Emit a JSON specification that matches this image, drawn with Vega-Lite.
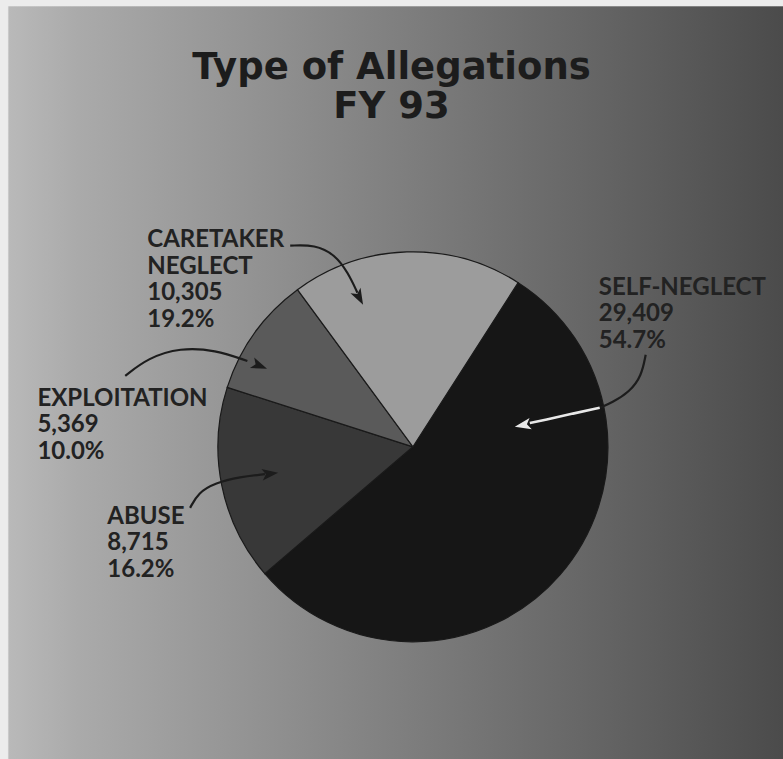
{
  "$schema": "https://vega.github.io/schema/vega-lite/v6.json",
  "width": 783,
  "height": 759,
  "autosize": {"type": "none"},
  "padding": 0,
  "background": "#808080",
  "config": {"view": {"stroke": null}},
  "title": {
    "text": ["Type of Allegations", "FY 93"],
    "font": "DejaVu Sans",
    "fontSize": 37,
    "fontWeight": "bold",
    "color": "#1c1c1c",
    "anchor": "middle",
    "lineHeight": 39,
    "baseline": "bottom",
    "offset": 0,
    "dy": 163
  },
  "datasets": {
    "slices": [
      {"type": "SELF-NEGLECT", "count": 29409, "percent": 54.7, "ord": 1},
      {"type": "ABUSE", "count": 8715, "percent": 16.2, "ord": 2},
      {"type": "EXPLOITATION", "count": 5369, "percent": 10.0, "ord": 3},
      {"type": "CARETAKER NEGLECT", "count": 10305, "percent": 19.2, "ord": 4}
    ],
    "labels": [
      {"type": "CARETAKER NEGLECT", "text": "CARETAKER\nNEGLECT\n10,305\n19.2%", "lx": -1.364, "ly": 1.023},
      {"type": "EXPLOITATION", "text": "EXPLOITATION\n5,369\n10.0%", "lx": -1.928, "ly": 0.210},
      {"type": "ABUSE", "text": "ABUSE\n8,715\n16.2%", "lx": -1.569, "ly": -0.395},
      {"type": "SELF-NEGLECT", "text": "SELF-NEGLECT\n29,409\n54.7%", "lx": 0.954, "ly": 0.779}
    ],
    "arrows": [
      {"arrow": "caretaker", "step": 1, "ax": -0.630, "ay": 1.031},
      {"arrow": "caretaker", "step": 2, "ax": -0.503, "ay": 1.036},
      {"arrow": "caretaker", "step": 3, "ax": -0.400, "ay": 0.985},
      {"arrow": "caretaker", "step": 4, "ax": -0.333, "ay": 0.892},
      {"arrow": "caretaker", "step": 5, "ax": -0.285, "ay": 0.790},
      {"arrow": "exploitation", "step": 1, "ax": -1.477, "ay": 0.364},
      {"arrow": "exploitation", "step": 2, "ax": -1.359, "ay": 0.456},
      {"arrow": "exploitation", "step": 3, "ax": -1.195, "ay": 0.508},
      {"arrow": "exploitation", "step": 4, "ax": -1.015, "ay": 0.497},
      {"arrow": "exploitation", "step": 5, "ax": -0.850, "ay": 0.440},
      {"arrow": "abuse", "step": 1, "ax": -1.144, "ay": -0.313},
      {"arrow": "abuse", "step": 2, "ax": -1.103, "ay": -0.236},
      {"arrow": "abuse", "step": 3, "ax": -1.015, "ay": -0.185},
      {"arrow": "abuse", "step": 4, "ax": -0.887, "ay": -0.154},
      {"arrow": "abuse", "step": 5, "ax": -0.760, "ay": -0.140},
      {"arrow": "self_out", "step": 1, "ax": 1.195, "ay": 0.472},
      {"arrow": "self_out", "step": 2, "ax": 1.174, "ay": 0.364},
      {"arrow": "self_out", "step": 3, "ax": 1.113, "ay": 0.282},
      {"arrow": "self_out", "step": 4, "ax": 1.021, "ay": 0.226},
      {"arrow": "self_out", "step": 5, "ax": 0.959, "ay": 0.200},
      {"arrow": "self_in", "step": 1, "ax": 0.959, "ay": 0.200},
      {"arrow": "self_in", "step": 2, "ax": 0.815, "ay": 0.169},
      {"arrow": "self_in", "step": 3, "ax": 0.677, "ay": 0.138},
      {"arrow": "self_in", "step": 4, "ax": 0.600, "ay": 0.122}
    ],
    "heads": [
      {"arrow": "caretaker", "hx": -0.256, "hy": 0.728},
      {"arrow": "exploitation", "hx": -0.749, "hy": 0.400},
      {"arrow": "abuse", "hx": -0.692, "hy": -0.133},
      {"arrow": "self_in", "hx": 0.523, "hy": 0.103}
    ],
    "backdrop": [{"panel": "background"}]
  },
  "layer": [
    {
      "data": {"name": "backdrop"},
      "mark": {
        "type": "rect",
        "color": {
          "gradient": "linear",
          "x1": 0, "y1": 0, "x2": 1, "y2": 0,
          "stops": [
            {"offset": 0, "color": "#ececec"},
            {"offset": 0.0095, "color": "#ececec"},
            {"offset": 0.0115, "color": "#b9b9b9"},
            {"offset": 0.1, "color": "#aaaaaa"},
            {"offset": 0.3, "color": "#959595"},
            {"offset": 0.5, "color": "#808080"},
            {"offset": 0.75, "color": "#666666"},
            {"offset": 1, "color": "#4b4b4b"}
          ]
        }
      },
      "encoding": {
        "x": {"value": 0},
        "x2": {"value": "width"},
        "y": {"value": 0},
        "y2": {"value": "height"}
      }
    },
    {
      "data": {"name": "backdrop"},
      "mark": {
        "type": "rect",
        "color": {
          "gradient": "linear",
          "x1": 0, "y1": 0, "x2": 0, "y2": 1,
          "stops": [
            {"offset": 0, "color": "rgba(236,236,236,1)"},
            {"offset": 0.0075, "color": "rgba(236,236,236,1)"},
            {"offset": 0.009, "color": "rgba(236,236,236,0)"},
            {"offset": 1, "color": "rgba(236,236,236,0)"}
          ]
        }
      },
      "encoding": {
        "x": {"value": 0},
        "x2": {"value": "width"},
        "y": {"value": 0},
        "y2": {"value": "height"}
      }
    },
    {
      "data": {"name": "slices"},
      "mark": {"type": "arc", "radius": 195, "stroke": "#1a1a1a", "strokeWidth": 1.2},
      "encoding": {
        "x": {"datum": 0, "type": "quantitative", "scale": {"domain": [-2.12, 1.90], "nice": false, "zero": false}, "axis": null},
        "y": {"datum": 0, "type": "quantitative", "scale": {"domain": [-1.60, 2.29], "nice": false, "zero": false}, "axis": null},
        "theta": {"field": "count", "type": "quantitative", "stack": true, "scale": {"range": [0.5699, 6.8531]}},
        "order": {"field": "ord", "type": "quantitative"},
        "color": {
          "field": "type",
          "type": "nominal",
          "scale": {
            "domain": ["SELF-NEGLECT", "ABUSE", "EXPLOITATION", "CARETAKER NEGLECT"],
            "range": ["#161616", "#383838", "#5a5a5a", "#9c9c9c"]
          },
          "legend": null
        }
      }
    },
    {
      "data": {"name": "arrows"},
      "transform": [{"filter": "datum.arrow != 'self_in'"}],
      "mark": {"type": "line", "interpolate": "basis", "stroke": "#1c1c1c", "strokeWidth": 2.2},
      "encoding": {
        "x": {"field": "ax", "type": "quantitative"},
        "y": {"field": "ay", "type": "quantitative"},
        "detail": {"field": "arrow"},
        "order": {"field": "step", "type": "quantitative"}
      }
    },
    {
      "data": {"name": "arrows"},
      "transform": [{"filter": "datum.arrow == 'self_in'"}],
      "mark": {"type": "line", "interpolate": "basis", "stroke": "#e8e8e8", "strokeWidth": 2.6},
      "encoding": {
        "x": {"field": "ax", "type": "quantitative"},
        "y": {"field": "ay", "type": "quantitative"},
        "order": {"field": "step", "type": "quantitative"}
      }
    },
    {
      "data": {"name": "heads"},
      "transform": [{"filter": "datum.arrow == 'caretaker'"}],
      "mark": {"type": "point", "shape": "M0,0L-0.6,1.7L0,1.3L0.6,1.7Z", "size": 360, "filled": true, "fill": "#1c1c1c", "opacity": 1, "angle": 152},
      "encoding": {
        "x": {"field": "hx", "type": "quantitative"},
        "y": {"field": "hy", "type": "quantitative"}
      }
    },
    {
      "data": {"name": "heads"},
      "transform": [{"filter": "datum.arrow == 'exploitation'"}],
      "mark": {"type": "point", "shape": "M0,0L-0.6,1.7L0,1.3L0.6,1.7Z", "size": 360, "filled": true, "fill": "#1c1c1c", "opacity": 1, "angle": 112},
      "encoding": {
        "x": {"field": "hx", "type": "quantitative"},
        "y": {"field": "hy", "type": "quantitative"}
      }
    },
    {
      "data": {"name": "heads"},
      "transform": [{"filter": "datum.arrow == 'abuse'"}],
      "mark": {"type": "point", "shape": "M0,0L-0.6,1.7L0,1.3L0.6,1.7Z", "size": 360, "filled": true, "fill": "#1c1c1c", "opacity": 1, "angle": 83},
      "encoding": {
        "x": {"field": "hx", "type": "quantitative"},
        "y": {"field": "hy", "type": "quantitative"}
      }
    },
    {
      "data": {"name": "heads"},
      "transform": [{"filter": "datum.arrow == 'self_in'"}],
      "mark": {"type": "point", "shape": "M0,0L-0.6,1.7L0,1.3L0.6,1.7Z", "size": 360, "filled": true, "fill": "#e8e8e8", "opacity": 1, "angle": 259},
      "encoding": {
        "x": {"field": "hx", "type": "quantitative"},
        "y": {"field": "hy", "type": "quantitative"}
      }
    },
    {
      "data": {"name": "labels"},
      "mark": {
        "type": "text",
        "align": "left",
        "baseline": "alphabetic",
        "lineBreak": "\n",
        "lineHeight": 26.5,
        "font": "Lato",
        "fontSize": 24,
        "fontWeight": "bold",
        "fill": "#222222"
      },
      "encoding": {
        "x": {"field": "lx", "type": "quantitative"},
        "y": {"field": "ly", "type": "quantitative"},
        "text": {"field": "text", "type": "nominal"}
      }
    }
  ]
}
